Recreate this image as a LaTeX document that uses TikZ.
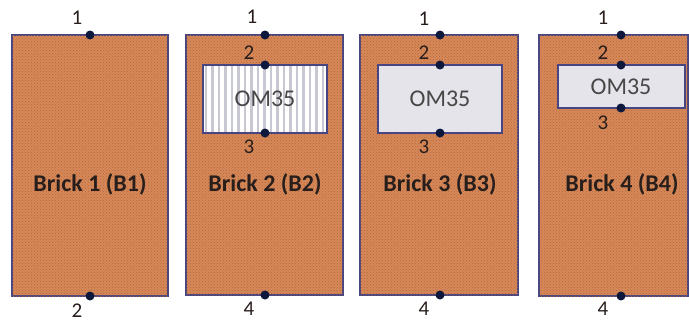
\documentclass[tikz,border=0pt]{standalone}
\usepackage{fontspec}
\setmainfont{Carlito}
\usetikzlibrary{patterns}
\definecolor{brickfill}{RGB}{214,136,88}
\definecolor{brickdots}{RGB}{180,104,62}
\definecolor{edgeblue}{RGB}{72,70,130}
\definecolor{dotnavy}{RGB}{14,24,60}
\definecolor{omgray}{RGB}{228,228,234}
\definecolor{stripegray}{RGB}{200,200,210}
\definecolor{labeltxt}{RGB}{40,30,28}
\begin{document}
\begin{tikzpicture}[x=1pt,y=-1pt,
  brick/.style={draw=edgeblue,line width=1.2pt,fill=brickfill,
    postaction={pattern=crosshatch dots,pattern color=brickdots}},
  omplain/.style={draw=edgeblue,line width=1.2pt,fill=omgray},
  pin/.style={circle,fill=dotnavy,inner sep=0pt,minimum size=9pt},
  num/.style={font=\fontsize{21}{21}\selectfont,text=labeltxt,inner sep=0pt},
  bricktxt/.style={font=\fontsize{24}{24}\selectfont\bfseries,text=labeltxt,inner sep=0pt},
  omtxt/.style={font=\fontsize{24}{24}\selectfont,text=black!72,inner sep=0pt}]
\useasboundingbox (0,0) rectangle (689,322);

% Brick 1
\draw[brick] (12,35) rectangle (168,296);
\node[bricktxt] (t1) at (90,184) {Brick 1 (B1)};
\node[pin] (b1p1) at (90,35) {};
\node[pin] (b1p2) at (90,296) {};
\node[num] (b1n1) at (77,18) {1};
\node[num] (b1n2) at (77,311) {2};

% Brick 2 with striped OM35 insert
\draw[brick] (186,35) rectangle (343,295);
\fill[white] (203,65) rectangle (327,133);
\begin{scope}
  \clip (203,65) rectangle (327,133);
  \foreach \sx in {206,212.5,...,327}
    \draw[stripegray,line width=2.2pt] (\sx,65) -- (\sx,133);
\end{scope}
\draw[draw=edgeblue,line width=1.2pt] (203,65) rectangle (327,133);
\node[omtxt] (o2) at (265,99) {OM35};
\node[bricktxt] (t2) at (265,184) {Brick 2 (B2)};
\node[pin] (b2p1) at (265,35) {};
\node[pin] (b2p2) at (265,65) {};
\node[pin] (b2p3) at (265,133) {};
\node[pin] (b2p4) at (265,295) {};
\node[num] (b2n1) at (252,17) {1};
\node[num] (b2n2) at (249,53) {2};
\node[num] (b2n3) at (249,147) {3};
\node[num] (b2n4) at (249,309) {4};

% Brick 3 with plain OM35 insert
\draw[brick] (360,35) rectangle (518,295);
\draw[omplain] (378,65) rectangle (502,133);
\node[omtxt] (o3) at (440,99) {OM35};
\node[bricktxt] (t3) at (440,184) {Brick 3 (B3)};
\node[pin] (b3p1) at (440,35) {};
\node[pin] (b3p2) at (440,65) {};
\node[pin] (b3p3) at (440,133) {};
\node[pin] (b3p4) at (440,295) {};
\node[num] (b3n1) at (424,19) {1};
\node[num] (b3n2) at (424,53) {2};
\node[num] (b3n3) at (424,147) {3};
\node[num] (b3n4) at (424,309) {4};

% Brick 4 with thin OM35 insert
\draw[brick] (539,35) rectangle (688,296);
\draw[omplain] (558,65) rectangle (685,108);
\node[omtxt] (o4) at (621,87) {OM35};
\node[bricktxt] (t4) at (622,184) {Brick 4 (B4)};
\node[pin] (b4p1) at (621,35) {};
\node[pin] (b4p2) at (621,65) {};
\node[pin] (b4p3) at (621,108) {};
\node[pin] (b4p4) at (621,296) {};
\node[num] (b4n1) at (603,18) {1};
\node[num] (b4n2) at (603,53) {2};
\node[num] (b4n3) at (603,123) {3};
\node[num] (b4n4) at (603,309) {4};
\end{tikzpicture}
\end{document}
